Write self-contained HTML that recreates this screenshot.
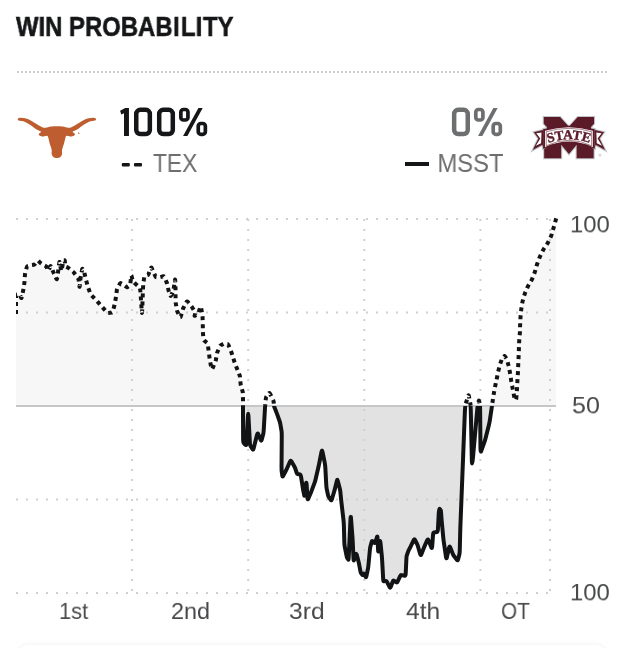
<!DOCTYPE html>
<html><head><meta charset="utf-8">
<style>
html,body{margin:0;padding:0;background:#fff;}
body{width:638px;height:648px;overflow:hidden;position:relative;font-family:"Liberation Sans",sans-serif;}
.t{position:absolute;white-space:nowrap;line-height:1;transform-origin:0 0;will-change:transform;}
.r{transform-origin:100% 0;}
svg{position:absolute;left:0;top:0;}
</style></head><body>
<svg width="638" height="648" viewBox="0 0 638 648" style="will-change:transform">
<defs>
<clipPath id="up"><rect x="16" y="200" width="542" height="206"/></clipPath>
<clipPath id="dn"><rect x="16" y="406" width="542" height="200"/></clipPath>
</defs>
<!-- title rule -->
<line x1="17" y1="72" x2="608" y2="72" stroke="#cbcbcb" stroke-width="2" stroke-dasharray="2 2"/>
<!-- longhorn -->
<g transform="translate(14,110) scale(0.13477)">
<path d="M334.1,120.5 Q318.0,120.0 301.9,120.5 L301.9,120.5 Q285.8,121.0 274.8,122.9 L274.8,122.9 Q263.8,124.8 252.8,128.9 L252.8,128.9 Q241.8,133.0 230.9,132.2 L230.9,132.2 Q220.0,131.4 206.2,125.3 L206.2,125.3 Q192.4,119.3 178.7,111.0 L178.7,111.0 Q165.0,102.8 151.2,94.5 L151.2,94.5 Q137.4,86.3 123.7,78.0 L123.7,78.0 Q110.0,69.8 96.2,65.7 L96.2,65.7 Q82.4,61.6 68.7,59.7 L68.7,59.7 Q55.0,57.7 44.5,58.1 L44.5,58.1 Q34.0,58.5 30.5,62.2 L30.5,62.2 Q27.0,66.0 27.0,69.5 L27.0,69.5 Q27.0,73.0 30.0,76.3 L30.0,76.3 Q33.0,79.7 44.0,79.7 L44.0,79.7 Q55.0,79.7 68.7,84.3 L68.7,84.3 Q82.4,89.0 96.2,96.5 L96.2,96.5 Q110.0,103.9 123.7,113.8 L123.7,113.8 Q137.4,123.7 151.2,133.0 L151.2,133.0 Q165.0,142.3 175.9,148.7 L175.9,148.7 Q186.9,155.0 196.4,157.8 L196.4,157.8 Q206.0,160.5 199.2,164.6 L199.2,164.6 Q192.4,168.7 186.7,174.2 L186.7,174.2 Q181.0,179.7 185.3,185.2 L185.3,185.2 Q189.6,190.7 201.9,194.0 L201.9,194.0 Q214.3,197.3 225.3,195.4 L225.3,195.4 Q236.3,193.5 243.7,191.6 L243.7,191.6 Q251.0,189.6 254.7,206.6 L254.7,206.6 Q258.3,223.7 262.1,237.8 L262.1,237.8 Q266.0,252.0 270.4,265.3 L270.4,265.3 Q274.8,278.6 278.4,291.0 L278.4,291.0 Q282.0,303.4 279.5,313.0 L279.5,313.0 Q277.0,322.6 281.4,333.6 L281.4,333.6 Q285.8,344.6 294.4,349.8 L294.4,349.8 Q303.0,355.0 310.5,356.0 L310.5,356.0 Q318.0,357.0 325.5,356.0 L325.5,356.0 Q333.0,355.0 341.6,349.8 L341.6,349.8 Q350.2,344.6 354.6,333.6 L354.6,333.6 Q359.0,322.6 356.5,313.0 L356.5,313.0 Q354.0,303.4 357.6,291.0 L357.6,291.0 Q361.2,278.6 365.6,265.3 L365.6,265.3 Q370.0,252.0 373.9,237.8 L373.9,237.8 Q377.7,223.7 381.4,206.6 L381.4,206.6 Q385.0,189.6 392.4,191.6 L392.4,191.6 Q399.7,193.5 410.7,195.4 L410.7,195.4 Q421.7,197.3 434.0,194.0 L434.0,194.0 Q446.4,190.7 450.7,185.2 L450.7,185.2 Q455.0,179.7 449.3,174.2 L449.3,174.2 Q443.6,168.7 436.8,164.6 L436.8,164.6 Q430.0,160.5 439.6,157.8 L439.6,157.8 Q449.1,155.0 460.1,148.7 L460.1,148.7 Q471.0,142.3 484.8,133.0 L484.8,133.0 Q498.6,123.7 512.3,113.8 L512.3,113.8 Q526.0,103.9 539.8,96.5 L539.8,96.5 Q553.6,89.0 567.3,84.3 L567.3,84.3 Q581.0,79.7 592.0,79.7 L592.0,79.7 Q603.0,79.7 606.0,76.3 L606.0,76.3 Q609.0,73.0 609.0,69.5 L609.0,69.5 Q609.0,66.0 605.5,62.2 L605.5,62.2 Q602.0,58.5 591.5,58.1 L591.5,58.1 Q581.0,57.7 567.3,59.7 L567.3,59.7 Q553.6,61.6 539.8,65.7 L539.8,65.7 Q526.0,69.8 512.3,78.0 L512.3,78.0 Q498.6,86.3 484.8,94.5 L484.8,94.5 Q471.0,102.8 457.3,111.0 L457.3,111.0 Q443.6,119.3 429.8,125.3 L429.8,125.3 Q416.0,131.4 405.1,132.2 L405.1,132.2 Q394.2,133.0 383.2,128.9 L383.2,128.9 Q372.2,124.8 361.2,122.9 L361.2,122.9 Q350.2,121.0 334.1,120.5 Z" fill="#be5e30"/>
<circle cx="480" cy="172" r="7" fill="#d39a7e"/>
</g>
<!-- msst -->
<g transform="translate(526,108) scale(0.13477)">
<g fill="#c2c5c8" stroke="#c2c5c8" stroke-width="16" stroke-linejoin="miter">
<path d="M318.5,140.0 L253.0,67.0 L132.0,67.0 L132.0,116.0 L155.0,141.0 L155.0,290.0 L135.0,300.0 L135.0,373.0 L261.0,373.0 L261.0,272.0 L318.5,342.0 L376.0,272.0 L376.0,373.0 L502.0,373.0 L502.0,300.0 L482.0,290.0 L482.0,141.0 L505.0,116.0 L505.0,67.0 L384.0,67.0 Z"/><path d="M127,157 Q318.5,107 510.0,157 L510.0,302 Q318.5,216 127,302 Z"/><path d="M127.0,164.0 L58.0,180.0 L92.0,227.0 L50.0,312.0 L121.0,273.0 L127.0,290.0 Z"/><path d="M510.0,164.0 L579.0,180.0 L545.0,227.0 L587.0,312.0 L516.0,273.0 L510.0,290.0 Z"/>
</g>
<path d="M318.5,140.0 L253.0,67.0 L132.0,67.0 L132.0,116.0 L155.0,141.0 L155.0,290.0 L135.0,300.0 L135.0,373.0 L261.0,373.0 L261.0,272.0 L318.5,342.0 L376.0,272.0 L376.0,373.0 L502.0,373.0 L502.0,300.0 L482.0,290.0 L482.0,141.0 L505.0,116.0 L505.0,67.0 L384.0,67.0 Z" fill="#5a1a28"/>
<path d="M121.0,273.0 L127.0,302.0 L150.0,296.0 Z" fill="#9a9da0"/><path d="M516.0,273.0 L510.0,302.0 L487.0,296.0 Z" fill="#9a9da0"/>
<path d="M127.0,164.0 L58.0,180.0 L92.0,227.0 L50.0,312.0 L121.0,273.0 L127.0,290.0 Z" fill="#5a1a28"/><path d="M510.0,164.0 L579.0,180.0 L545.0,227.0 L587.0,312.0 L516.0,273.0 L510.0,290.0 Z" fill="#5a1a28"/>
<path d="M115.0,181.0 L76.0,188.0 L106.0,227.0 L73.0,281.0 L112.0,261.0 Z" fill="#fff"/><path d="M522.0,181.0 L561.0,188.0 L531.0,227.0 L564.0,281.0 L525.0,261.0 Z" fill="#fff"/>
<path d="M127,157 Q318.5,107 510.0,157 L510.0,302 Q318.5,216 127,302 Z" fill="#5a1a28"/>
<path d="M141,169 Q318.5,117 496.0,169 L496.0,289 Q318.5,207 141,289 Z" fill="#fff"/>
<path d="M150,176 Q318.5,126 487.0,176 L487.0,280 Q318.5,199 150,280 Z" fill="none" stroke="#5a1a28" stroke-width="4"/>
<path id="arc" d="M140,268 Q318.5,196 497.0,268" fill="none"/>
<text font-family="Liberation Serif, serif" font-weight="bold" font-size="100" fill="#5a1a28" stroke="#5a1a28" stroke-width="3" text-anchor="middle" letter-spacing="0"><textPath href="#arc" startOffset="50%">STATE</textPath></text>
<circle cx="548" cy="350" r="8" fill="none" stroke="#a9acaf" stroke-width="4"/>
</g>
<!-- big numbers -->
<defs>
<g id="zp">
<rect x="136.250" y="109.850" width="13.600" height="24.200" rx="4" fill="none" stroke-width="4.500"/>
</g>
<g id="pct">
<rect x="180.850" y="109.500" width="7.100" height="10.500" rx="2.600" fill="none" stroke-width="3.700"/>
<rect x="198.250" y="123.500" width="7.100" height="10.800" rx="2.600" fill="none" stroke-width="3.700"/>
<path d="M198.400,108.100 L202.700,108.100 L187.400,135.900 L183.100,135.900 Z" stroke="none"/>
</g>
</defs>
<g stroke="#151617" fill="#151617">
<path d="M125.200,108.100 L128.950,108.100 L128.950,135.900 L124,135.900 L124,113.200 L121.300,114.600 L120.100,110.700 Z" stroke="none"/>
<use href="#zp"/>
<use href="#zp" x="22.950"/>
<use href="#pct"/>
</g>
<g stroke="#6c6e6f" fill="#6c6e6f" transform="translate(294.950,0)">
<use href="#zp" x="22.950"/>
<use href="#pct"/>
</g>
<!-- legend marks -->
<rect x="121.800" y="163" width="8" height="3.500" rx="1" fill="#151617"/>
<rect x="134" y="163" width="8" height="3.500" rx="1" fill="#151617"/>
<rect x="405" y="162" width="24" height="4" fill="#151617"/>
<!-- area fills -->
<path d="M16,314 L16.00,304.65 Q16,303 16.03,301.73 L16.17,295.77 Q16.2,294.5 16.70,294.43 L19.00,294.07 Q19.5,294 19.80,294.68 L21.20,297.82 Q21.5,298.5 21.80,297.07 L23.20,290.43 Q23.5,289 23.65,287.95 L24.35,283.05 Q24.5,282 24.57,280.75 L24.93,274.94 Q25,273.7 25.30,272.59 L26.70,267.41 Q27,266.3 27.52,266.13 L29.98,265.37 Q30.5,265.2 31.10,265.12 L33.90,264.77 Q34.5,264.7 35.02,264.07 L37.48,261.13 Q38,260.5 38.38,260.88 L40.12,262.62 Q40.5,263 40.88,263.25 L42.62,264.44 Q43,264.7 43.52,264.97 L45.98,266.23 Q46.5,266.5 46.73,267.22 L47.77,270.58 Q48,271.3 48.39,270.43 L50.21,266.37 Q50.6,265.5 50.96,266.40 L52.64,270.60 Q53,271.5 53.59,272.77 L56.31,278.73 Q56.9,280 57.16,278.20 L58.34,269.80 Q58.6,268 58.73,267.00 L59.37,262.31 Q59.5,261.3 59.78,262.88 L61.12,270.23 Q61.4,271.8 61.70,270.07 L63.10,262.03 Q63.4,260.3 63.61,260.30 L64.59,260.30 Q64.8,260.3 64.86,261.23 L65.14,265.57 Q65.2,266.5 65.62,266.67 L67.58,267.44 Q68,267.6 68.83,268.26 L72.67,271.34 Q73.5,272 74.27,273.05 L77.83,277.95 Q78.6,279 78.75,280.27 L79.45,286.23 Q79.6,287.5 79.75,286.01 L80.45,279.09 Q80.6,277.6 80.85,276.24 L82.05,269.87 Q82.3,268.5 82.55,268.88 L83.75,270.62 Q84,271 84.24,272.08 L85.36,277.12 Q85.6,278.2 85.93,279.46 L87.47,285.34 Q87.8,286.6 88.23,287.79 L90.27,293.31 Q90.7,294.5 91.54,295.36 L95.46,299.34 Q96.3,300.2 97.09,301.10 L100.80,305.30 Q101.6,306.2 102.48,307.22 L106.61,311.98 Q107.5,313 108.25,312.93 L111.75,312.57 Q112.5,312.5 112.80,311.38 L114.20,306.12 Q114.5,305 114.72,303.80 L115.78,298.20 Q116,297 116.15,295.78 L116.85,290.12 Q117,288.9 117.51,288.00 L119.89,283.80 Q120.4,282.9 120.94,283.21 L123.46,284.69 Q124,285 124.45,285.36 L126.55,287.04 Q127,287.4 127.48,287.07 L129.72,285.53 Q130.2,285.2 130.36,283.64 L131.14,276.36 Q131.3,274.8 131.50,275.66 L132.41,279.64 Q132.6,280.5 132.88,280.86 L134.22,282.54 Q134.5,282.9 135.35,283.66 L139.34,287.24 Q140.2,288 140.47,292.05 L141.73,310.95 Q142,315 142.18,310.35 L143.02,288.65 Q143.2,284 143.38,282.85 L144.22,277.45 Q144.4,276.3 144.97,276.11 L147.63,275.19 Q148.2,275 148.66,273.80 L150.84,268.20 Q151.3,267 151.65,267.82 L153.25,271.68 Q153.6,272.5 153.94,273.20 L155.56,276.50 Q155.9,277.2 156.52,277.23 L159.38,277.37 Q160,277.4 160.60,277.19 L163.40,276.21 Q164,276 164.45,277.08 L166.55,282.12 Q167,283.2 167.24,284.34 L168.36,289.66 Q168.6,290.8 168.91,291.64 L170.38,295.56 Q170.7,296.4 171.12,295.44 L173.08,290.96 Q173.5,290 173.74,288.32 L174.86,280.48 Q175.1,278.8 175.16,280.03 L175.44,285.77 Q175.5,287 175.50,288.12 L175.50,293.38 Q175.5,294.5 175.53,295.73 L175.67,301.47 Q175.7,302.7 175.89,303.91 L176.81,309.59 Q177,310.8 177.51,311.88 L179.89,316.92 Q180.4,318 180.79,316.59 L182.61,310.01 Q183,308.6 183.60,307.46 L186.40,302.14 Q187,301 187.75,301.90 L191.25,306.10 Q192,307 192.53,307.90 L194.97,312.10 Q195.5,313 195.35,313.45 L194.65,315.55 Q194.5,316 195.03,315.70 L197.47,314.30 Q198,314 198.42,312.77 L200.38,307.03 Q200.8,305.8 201.06,307.29 L202.25,314.21 Q202.5,315.7 202.55,316.96 L202.75,322.84 Q202.8,324.1 202.81,325.29 L202.89,330.81 Q202.9,332 202.99,333.19 L203.41,338.71 Q203.5,339.9 204.12,340.41 L206.98,342.79 Q207.6,343.3 207.78,344.56 L208.62,350.44 Q208.8,351.7 208.95,352.94 L209.65,358.75 Q209.8,360 210.10,361.50 L211.50,368.50 Q211.8,370 212.39,368.68 L215.11,362.52 Q215.7,361.2 215.89,359.95 L216.81,354.14 Q217,352.9 217.50,351.79 L219.81,346.61 Q220.3,345.5 220.86,345.22 L223.44,343.88 Q224,343.6 224.60,343.66 L227.40,343.94 Q228,344 228.54,345.31 L231.06,351.39 Q231.6,352.7 232.03,354.11 L234.06,360.69 Q234.5,362.1 234.94,363.23 L236.97,368.48 Q237.4,369.6 237.79,370.61 L239.61,375.30 Q240,376.3 240.10,377.61 L240.59,383.69 Q240.7,385 241.01,386.05 L242.49,390.95 Q242.8,392 242.83,393.20 L242.97,398.80 Q243,400 243.00,400.90 L243.00,405.10 Q243,406 243.01,411.40 L243.09,436.60 Q243.1,442 243.29,442.30 L244.21,443.70 Q244.4,444 244.69,444.18 L246.02,445.02 Q246.3,445.2 246.59,440.12 L247.91,416.38 Q248.2,411.3 248.47,416.38 L249.73,440.12 Q250,445.2 250.48,445.95 L252.72,449.45 Q253.2,450.2 253.86,447.56 L256.94,435.24 Q257.6,432.6 258.16,433.92 L260.75,440.08 Q261.3,441.4 261.65,440.08 L263.25,433.92 Q263.6,432.6 263.83,428.61 L264.88,409.99 Q265.1,406 265.24,404.65 L265.87,398.35 Q266,397 266.52,396.32 L268.98,393.18 Q269.5,392.5 270.12,393.77 L272.99,399.73 Q273.6,401 273.66,401.75 L273.94,405.25 Q274,406 274.45,407.17 L276.55,412.63 Q277,413.8 277.47,415.12 L279.63,421.28 Q280.1,422.6 280.36,424.10 L281.55,431.10 Q281.8,432.6 281.75,438.21 L281.55,464.39 Q281.5,470 281.65,471.05 L282.35,475.95 Q282.5,477 283.07,475.95 L285.73,471.05 Q286.3,470 286.96,468.50 L290.04,461.50 Q290.7,460 291.34,461.14 L294.36,466.46 Q295,467.6 295.30,468.55 L296.70,472.95 Q297,473.9 297.56,473.99 L300.14,474.41 Q300.7,474.5 301.07,476.86 L302.82,487.84 Q303.2,490.2 303.39,491.13 L304.31,495.47 Q304.5,496.4 304.78,494.15 L306.12,483.65 Q306.4,481.4 306.58,484.22 L307.42,497.38 Q307.6,500.2 308.17,498.88 L310.83,492.72 Q311.4,491.4 311.95,489.90 L314.55,482.90 Q315.1,481.4 315.67,478.94 L318.33,467.46 Q318.9,465 319.37,462.66 L321.53,451.74 Q322,449.4 322.48,451.74 L324.72,462.66 Q325.2,465 325.38,468.39 L326.22,484.21 Q326.4,487.6 326.69,488.92 L328.01,495.08 Q328.3,496.4 328.76,497.06 L330.94,500.14 Q331.4,500.8 331.88,499.21 L334.12,491.79 Q334.6,490.2 335.00,488.52 L336.90,480.68 Q337.3,479 337.74,480.68 L339.76,488.52 Q340.2,490.2 340.37,491.87 L341.13,499.63 Q341.3,501.3 341.68,504.51 L343.43,519.49 Q343.8,522.7 343.89,526.05 L344.31,541.65 Q344.4,545 344.77,546.89 L346.52,555.71 Q346.9,557.6 347.15,557.98 L348.35,559.73 Q348.6,560.1 348.92,553.26 L350.38,521.34 Q350.7,514.5 350.99,518.14 L352.31,535.15 Q352.6,538.8 352.75,542.19 L353.45,558.01 Q353.6,561.4 354.00,560.17 L355.90,554.43 Q356.3,553.2 356.68,554.61 L358.43,561.19 Q358.8,562.6 359.09,564.12 L360.41,571.19 Q360.7,572.7 360.99,573.08 L362.31,574.83 Q362.6,575.2 362.80,574.92 L363.70,573.58 Q363.9,573.3 364.23,573.96 L365.77,577.04 Q366.1,577.7 366.42,576.19 L367.88,569.12 Q368.2,567.6 368.49,564.60 L369.81,550.60 Q370.1,547.6 370.38,546.57 L371.72,541.74 Q372,540.7 372.47,541.08 L374.63,542.83 Q375.1,543.2 375.44,542.08 L377.06,536.83 Q377.4,535.7 377.52,538.24 L378.08,550.07 Q378.2,552.6 378.50,550.71 L379.90,541.89 Q380.2,540 380.47,542.64 L381.73,554.96 Q382,557.6 382.19,561.17 L383.11,577.83 Q383.3,581.4 383.76,581.31 L385.94,580.89 Q386.4,580.8 386.97,581.92 L389.63,587.17 Q390.2,588.3 390.66,587.08 L392.84,581.42 Q393.3,580.2 393.86,580.58 L396.44,582.33 Q397,582.7 397.56,581.55 L400.14,576.15 Q400.7,575 401.44,575.12 L404.87,575.68 Q405.6,575.8 405.74,572.89 L406.37,559.31 Q406.5,556.4 406.75,555.65 L407.94,552.15 Q408.2,551.4 408.66,550.45 L410.84,546.05 Q411.3,545.1 411.76,544.15 L413.94,539.75 Q414.4,538.8 414.88,539.75 L417.12,544.15 Q417.6,545.1 418.06,546.71 L420.24,554.19 Q420.7,555.8 421.27,554.38 L423.93,547.72 Q424.5,546.3 425.01,545.17 L427.39,539.92 Q427.9,538.8 428.51,540.31 L431.38,547.38 Q432,548.9 432.18,546.45 L433.02,535.05 Q433.2,532.6 433.89,532.50 L437.11,532.00 Q437.8,531.9 437.95,528.99 L438.65,515.41 Q438.8,512.5 438.91,511.92 L439.39,509.19 Q439.5,508.6 439.71,508.88 L440.69,510.22 Q440.9,510.5 441.02,512.08 L441.58,519.42 Q441.7,521 441.97,523.87 L443.23,537.24 Q443.5,540.1 443.94,543.01 L445.96,556.59 Q446.4,559.5 446.87,557.43 L449.03,547.77 Q449.5,545.7 450.07,547.11 L452.73,553.69 Q453.3,555.1 453.96,555.96 L457.04,559.94 Q457.7,560.8 458.00,559.63 L459.40,554.17 Q459.7,553 459.79,549.25 L460.21,531.75 Q460.3,528 460.68,518.55 L462.43,474.45 Q462.8,465 463.15,456.11 L464.75,414.59 Q465.1,405.7 465.62,404.00 L468.08,396.09 Q468.6,394.4 468.92,396.09 L470.38,404.00 Q470.7,405.7 470.89,415.09 L471.81,458.91 Q472,468.3 472.84,458.91 L476.76,415.09 Q477.6,405.7 477.80,404.84 L478.70,400.86 Q478.9,400 479.08,400.86 L479.92,404.84 Q480.1,405.7 480.16,412.80 L480.44,445.90 Q480.5,453 481.19,451.08 L484.41,442.12 Q485.1,440.2 485.76,437.56 L488.84,425.24 Q489.5,422.6 489.88,420.06 L491.62,408.24 Q492,405.7 492.23,404.12 L493.27,396.77 Q493.5,395.2 493.73,393.97 L494.77,388.23 Q495,387 495.24,385.88 L496.36,380.62 Q496.6,379.5 496.84,378.28 L497.96,372.62 Q498.2,371.4 498.51,370.21 L499.99,364.69 Q500.3,363.5 500.60,362.68 L502.00,358.82 Q502.3,358 502.65,357.67 L504.25,356.13 Q504.6,355.8 504.93,356.28 L506.47,358.52 Q506.8,359 507.07,360.00 L508.33,364.69 Q508.6,365.7 508.83,366.84 L509.88,372.16 Q510.1,373.3 510.28,374.51 L511.12,380.19 Q511.3,381.4 511.54,382.63 L512.66,388.37 Q512.9,389.6 513.18,391.16 L514.51,398.44 Q514.8,400 515.01,399.93 L515.99,399.57 Q516.2,399.5 516.32,397.91 L516.88,390.49 Q517,388.9 517.06,387.69 L517.34,382.01 Q517.4,380.8 517.48,379.68 L517.82,374.43 Q517.9,373.3 517.94,372.07 L518.16,366.33 Q518.2,365.1 518.26,363.88 L518.54,358.22 Q518.6,357 518.64,355.77 L518.86,350.03 Q518.9,348.8 518.94,347.63 L519.16,342.17 Q519.2,341 519.31,339.77 L519.79,334.03 Q519.9,332.8 519.93,331.63 L520.07,326.17 Q520.1,325 520.16,323.80 L520.44,318.20 Q520.5,317 520.62,315.78 L521.18,310.12 Q521.3,308.9 521.50,307.73 L522.40,302.27 Q522.6,301.1 522.93,299.98 L524.47,294.73 Q524.8,293.6 525.26,292.50 L527.43,287.40 Q527.9,286.3 528.51,285.26 L531.38,280.44 Q532,279.4 532.43,278.27 L534.47,273.02 Q534.9,271.9 535.22,270.77 L536.68,265.52 Q537,264.4 537.43,263.23 L539.47,257.77 Q539.9,256.6 540.42,255.54 L542.88,250.56 Q543.4,249.5 544.06,248.51 L547.14,243.89 Q547.8,242.9 548.31,241.85 L550.69,236.95 Q551.2,235.9 551.55,234.73 L553.15,229.27 Q553.5,228.1 553.82,226.96 L555.28,221.64 Q555.6,220.5 555.69,220.19 L556.2,218.4 L556,406 L16,406 Z" fill="#f7f7f7" clip-path="url(#up)"/>
<path d="M16,314 L16.00,304.65 Q16,303 16.03,301.73 L16.17,295.77 Q16.2,294.5 16.70,294.43 L19.00,294.07 Q19.5,294 19.80,294.68 L21.20,297.82 Q21.5,298.5 21.80,297.07 L23.20,290.43 Q23.5,289 23.65,287.95 L24.35,283.05 Q24.5,282 24.57,280.75 L24.93,274.94 Q25,273.7 25.30,272.59 L26.70,267.41 Q27,266.3 27.52,266.13 L29.98,265.37 Q30.5,265.2 31.10,265.12 L33.90,264.77 Q34.5,264.7 35.02,264.07 L37.48,261.13 Q38,260.5 38.38,260.88 L40.12,262.62 Q40.5,263 40.88,263.25 L42.62,264.44 Q43,264.7 43.52,264.97 L45.98,266.23 Q46.5,266.5 46.73,267.22 L47.77,270.58 Q48,271.3 48.39,270.43 L50.21,266.37 Q50.6,265.5 50.96,266.40 L52.64,270.60 Q53,271.5 53.59,272.77 L56.31,278.73 Q56.9,280 57.16,278.20 L58.34,269.80 Q58.6,268 58.73,267.00 L59.37,262.31 Q59.5,261.3 59.78,262.88 L61.12,270.23 Q61.4,271.8 61.70,270.07 L63.10,262.03 Q63.4,260.3 63.61,260.30 L64.59,260.30 Q64.8,260.3 64.86,261.23 L65.14,265.57 Q65.2,266.5 65.62,266.67 L67.58,267.44 Q68,267.6 68.83,268.26 L72.67,271.34 Q73.5,272 74.27,273.05 L77.83,277.95 Q78.6,279 78.75,280.27 L79.45,286.23 Q79.6,287.5 79.75,286.01 L80.45,279.09 Q80.6,277.6 80.85,276.24 L82.05,269.87 Q82.3,268.5 82.55,268.88 L83.75,270.62 Q84,271 84.24,272.08 L85.36,277.12 Q85.6,278.2 85.93,279.46 L87.47,285.34 Q87.8,286.6 88.23,287.79 L90.27,293.31 Q90.7,294.5 91.54,295.36 L95.46,299.34 Q96.3,300.2 97.09,301.10 L100.80,305.30 Q101.6,306.2 102.48,307.22 L106.61,311.98 Q107.5,313 108.25,312.93 L111.75,312.57 Q112.5,312.5 112.80,311.38 L114.20,306.12 Q114.5,305 114.72,303.80 L115.78,298.20 Q116,297 116.15,295.78 L116.85,290.12 Q117,288.9 117.51,288.00 L119.89,283.80 Q120.4,282.9 120.94,283.21 L123.46,284.69 Q124,285 124.45,285.36 L126.55,287.04 Q127,287.4 127.48,287.07 L129.72,285.53 Q130.2,285.2 130.36,283.64 L131.14,276.36 Q131.3,274.8 131.50,275.66 L132.41,279.64 Q132.6,280.5 132.88,280.86 L134.22,282.54 Q134.5,282.9 135.35,283.66 L139.34,287.24 Q140.2,288 140.47,292.05 L141.73,310.95 Q142,315 142.18,310.35 L143.02,288.65 Q143.2,284 143.38,282.85 L144.22,277.45 Q144.4,276.3 144.97,276.11 L147.63,275.19 Q148.2,275 148.66,273.80 L150.84,268.20 Q151.3,267 151.65,267.82 L153.25,271.68 Q153.6,272.5 153.94,273.20 L155.56,276.50 Q155.9,277.2 156.52,277.23 L159.38,277.37 Q160,277.4 160.60,277.19 L163.40,276.21 Q164,276 164.45,277.08 L166.55,282.12 Q167,283.2 167.24,284.34 L168.36,289.66 Q168.6,290.8 168.91,291.64 L170.38,295.56 Q170.7,296.4 171.12,295.44 L173.08,290.96 Q173.5,290 173.74,288.32 L174.86,280.48 Q175.1,278.8 175.16,280.03 L175.44,285.77 Q175.5,287 175.50,288.12 L175.50,293.38 Q175.5,294.5 175.53,295.73 L175.67,301.47 Q175.7,302.7 175.89,303.91 L176.81,309.59 Q177,310.8 177.51,311.88 L179.89,316.92 Q180.4,318 180.79,316.59 L182.61,310.01 Q183,308.6 183.60,307.46 L186.40,302.14 Q187,301 187.75,301.90 L191.25,306.10 Q192,307 192.53,307.90 L194.97,312.10 Q195.5,313 195.35,313.45 L194.65,315.55 Q194.5,316 195.03,315.70 L197.47,314.30 Q198,314 198.42,312.77 L200.38,307.03 Q200.8,305.8 201.06,307.29 L202.25,314.21 Q202.5,315.7 202.55,316.96 L202.75,322.84 Q202.8,324.1 202.81,325.29 L202.89,330.81 Q202.9,332 202.99,333.19 L203.41,338.71 Q203.5,339.9 204.12,340.41 L206.98,342.79 Q207.6,343.3 207.78,344.56 L208.62,350.44 Q208.8,351.7 208.95,352.94 L209.65,358.75 Q209.8,360 210.10,361.50 L211.50,368.50 Q211.8,370 212.39,368.68 L215.11,362.52 Q215.7,361.2 215.89,359.95 L216.81,354.14 Q217,352.9 217.50,351.79 L219.81,346.61 Q220.3,345.5 220.86,345.22 L223.44,343.88 Q224,343.6 224.60,343.66 L227.40,343.94 Q228,344 228.54,345.31 L231.06,351.39 Q231.6,352.7 232.03,354.11 L234.06,360.69 Q234.5,362.1 234.94,363.23 L236.97,368.48 Q237.4,369.6 237.79,370.61 L239.61,375.30 Q240,376.3 240.10,377.61 L240.59,383.69 Q240.7,385 241.01,386.05 L242.49,390.95 Q242.8,392 242.83,393.20 L242.97,398.80 Q243,400 243.00,400.90 L243.00,405.10 Q243,406 243.01,411.40 L243.09,436.60 Q243.1,442 243.29,442.30 L244.21,443.70 Q244.4,444 244.69,444.18 L246.02,445.02 Q246.3,445.2 246.59,440.12 L247.91,416.38 Q248.2,411.3 248.47,416.38 L249.73,440.12 Q250,445.2 250.48,445.95 L252.72,449.45 Q253.2,450.2 253.86,447.56 L256.94,435.24 Q257.6,432.6 258.16,433.92 L260.75,440.08 Q261.3,441.4 261.65,440.08 L263.25,433.92 Q263.6,432.6 263.83,428.61 L264.88,409.99 Q265.1,406 265.24,404.65 L265.87,398.35 Q266,397 266.52,396.32 L268.98,393.18 Q269.5,392.5 270.12,393.77 L272.99,399.73 Q273.6,401 273.66,401.75 L273.94,405.25 Q274,406 274.45,407.17 L276.55,412.63 Q277,413.8 277.47,415.12 L279.63,421.28 Q280.1,422.6 280.36,424.10 L281.55,431.10 Q281.8,432.6 281.75,438.21 L281.55,464.39 Q281.5,470 281.65,471.05 L282.35,475.95 Q282.5,477 283.07,475.95 L285.73,471.05 Q286.3,470 286.96,468.50 L290.04,461.50 Q290.7,460 291.34,461.14 L294.36,466.46 Q295,467.6 295.30,468.55 L296.70,472.95 Q297,473.9 297.56,473.99 L300.14,474.41 Q300.7,474.5 301.07,476.86 L302.82,487.84 Q303.2,490.2 303.39,491.13 L304.31,495.47 Q304.5,496.4 304.78,494.15 L306.12,483.65 Q306.4,481.4 306.58,484.22 L307.42,497.38 Q307.6,500.2 308.17,498.88 L310.83,492.72 Q311.4,491.4 311.95,489.90 L314.55,482.90 Q315.1,481.4 315.67,478.94 L318.33,467.46 Q318.9,465 319.37,462.66 L321.53,451.74 Q322,449.4 322.48,451.74 L324.72,462.66 Q325.2,465 325.38,468.39 L326.22,484.21 Q326.4,487.6 326.69,488.92 L328.01,495.08 Q328.3,496.4 328.76,497.06 L330.94,500.14 Q331.4,500.8 331.88,499.21 L334.12,491.79 Q334.6,490.2 335.00,488.52 L336.90,480.68 Q337.3,479 337.74,480.68 L339.76,488.52 Q340.2,490.2 340.37,491.87 L341.13,499.63 Q341.3,501.3 341.68,504.51 L343.43,519.49 Q343.8,522.7 343.89,526.05 L344.31,541.65 Q344.4,545 344.77,546.89 L346.52,555.71 Q346.9,557.6 347.15,557.98 L348.35,559.73 Q348.6,560.1 348.92,553.26 L350.38,521.34 Q350.7,514.5 350.99,518.14 L352.31,535.15 Q352.6,538.8 352.75,542.19 L353.45,558.01 Q353.6,561.4 354.00,560.17 L355.90,554.43 Q356.3,553.2 356.68,554.61 L358.43,561.19 Q358.8,562.6 359.09,564.12 L360.41,571.19 Q360.7,572.7 360.99,573.08 L362.31,574.83 Q362.6,575.2 362.80,574.92 L363.70,573.58 Q363.9,573.3 364.23,573.96 L365.77,577.04 Q366.1,577.7 366.42,576.19 L367.88,569.12 Q368.2,567.6 368.49,564.60 L369.81,550.60 Q370.1,547.6 370.38,546.57 L371.72,541.74 Q372,540.7 372.47,541.08 L374.63,542.83 Q375.1,543.2 375.44,542.08 L377.06,536.83 Q377.4,535.7 377.52,538.24 L378.08,550.07 Q378.2,552.6 378.50,550.71 L379.90,541.89 Q380.2,540 380.47,542.64 L381.73,554.96 Q382,557.6 382.19,561.17 L383.11,577.83 Q383.3,581.4 383.76,581.31 L385.94,580.89 Q386.4,580.8 386.97,581.92 L389.63,587.17 Q390.2,588.3 390.66,587.08 L392.84,581.42 Q393.3,580.2 393.86,580.58 L396.44,582.33 Q397,582.7 397.56,581.55 L400.14,576.15 Q400.7,575 401.44,575.12 L404.87,575.68 Q405.6,575.8 405.74,572.89 L406.37,559.31 Q406.5,556.4 406.75,555.65 L407.94,552.15 Q408.2,551.4 408.66,550.45 L410.84,546.05 Q411.3,545.1 411.76,544.15 L413.94,539.75 Q414.4,538.8 414.88,539.75 L417.12,544.15 Q417.6,545.1 418.06,546.71 L420.24,554.19 Q420.7,555.8 421.27,554.38 L423.93,547.72 Q424.5,546.3 425.01,545.17 L427.39,539.92 Q427.9,538.8 428.51,540.31 L431.38,547.38 Q432,548.9 432.18,546.45 L433.02,535.05 Q433.2,532.6 433.89,532.50 L437.11,532.00 Q437.8,531.9 437.95,528.99 L438.65,515.41 Q438.8,512.5 438.91,511.92 L439.39,509.19 Q439.5,508.6 439.71,508.88 L440.69,510.22 Q440.9,510.5 441.02,512.08 L441.58,519.42 Q441.7,521 441.97,523.87 L443.23,537.24 Q443.5,540.1 443.94,543.01 L445.96,556.59 Q446.4,559.5 446.87,557.43 L449.03,547.77 Q449.5,545.7 450.07,547.11 L452.73,553.69 Q453.3,555.1 453.96,555.96 L457.04,559.94 Q457.7,560.8 458.00,559.63 L459.40,554.17 Q459.7,553 459.79,549.25 L460.21,531.75 Q460.3,528 460.68,518.55 L462.43,474.45 Q462.8,465 463.15,456.11 L464.75,414.59 Q465.1,405.7 465.62,404.00 L468.08,396.09 Q468.6,394.4 468.92,396.09 L470.38,404.00 Q470.7,405.7 470.89,415.09 L471.81,458.91 Q472,468.3 472.84,458.91 L476.76,415.09 Q477.6,405.7 477.80,404.84 L478.70,400.86 Q478.9,400 479.08,400.86 L479.92,404.84 Q480.1,405.7 480.16,412.80 L480.44,445.90 Q480.5,453 481.19,451.08 L484.41,442.12 Q485.1,440.2 485.76,437.56 L488.84,425.24 Q489.5,422.6 489.88,420.06 L491.62,408.24 Q492,405.7 492.23,404.12 L493.27,396.77 Q493.5,395.2 493.73,393.97 L494.77,388.23 Q495,387 495.24,385.88 L496.36,380.62 Q496.6,379.5 496.84,378.28 L497.96,372.62 Q498.2,371.4 498.51,370.21 L499.99,364.69 Q500.3,363.5 500.60,362.68 L502.00,358.82 Q502.3,358 502.65,357.67 L504.25,356.13 Q504.6,355.8 504.93,356.28 L506.47,358.52 Q506.8,359 507.07,360.00 L508.33,364.69 Q508.6,365.7 508.83,366.84 L509.88,372.16 Q510.1,373.3 510.28,374.51 L511.12,380.19 Q511.3,381.4 511.54,382.63 L512.66,388.37 Q512.9,389.6 513.18,391.16 L514.51,398.44 Q514.8,400 515.01,399.93 L515.99,399.57 Q516.2,399.5 516.32,397.91 L516.88,390.49 Q517,388.9 517.06,387.69 L517.34,382.01 Q517.4,380.8 517.48,379.68 L517.82,374.43 Q517.9,373.3 517.94,372.07 L518.16,366.33 Q518.2,365.1 518.26,363.88 L518.54,358.22 Q518.6,357 518.64,355.77 L518.86,350.03 Q518.9,348.8 518.94,347.63 L519.16,342.17 Q519.2,341 519.31,339.77 L519.79,334.03 Q519.9,332.8 519.93,331.63 L520.07,326.17 Q520.1,325 520.16,323.80 L520.44,318.20 Q520.5,317 520.62,315.78 L521.18,310.12 Q521.3,308.9 521.50,307.73 L522.40,302.27 Q522.6,301.1 522.93,299.98 L524.47,294.73 Q524.8,293.6 525.26,292.50 L527.43,287.40 Q527.9,286.3 528.51,285.26 L531.38,280.44 Q532,279.4 532.43,278.27 L534.47,273.02 Q534.9,271.9 535.22,270.77 L536.68,265.52 Q537,264.4 537.43,263.23 L539.47,257.77 Q539.9,256.6 540.42,255.54 L542.88,250.56 Q543.4,249.5 544.06,248.51 L547.14,243.89 Q547.8,242.9 548.31,241.85 L550.69,236.95 Q551.2,235.9 551.55,234.73 L553.15,229.27 Q553.5,228.1 553.82,226.96 L555.28,221.64 Q555.6,220.5 555.69,220.19 L556.2,218.4 L556,406 L16,406 Z" fill="#e2e2e2" clip-path="url(#dn)"/>
<!-- grid -->
<g stroke="#d0d0d0" stroke-width="2" stroke-dasharray="2 8" fill="none">
<line x1="16" y1="219" x2="556" y2="219"/>
<line x1="16" y1="312.500" x2="556" y2="312.500"/>
<line x1="16" y1="499.500" x2="556" y2="499.500"/>
<line x1="16" y1="593" x2="556" y2="593"/>
<line x1="132.100" y1="219" x2="132.100" y2="592"/>
<line x1="248.200" y1="219" x2="248.200" y2="592"/>
<line x1="364.300" y1="219" x2="364.300" y2="592"/>
<line x1="480.400" y1="219" x2="480.400" y2="592"/>
<line x1="550" y1="219" x2="550" y2="592"/>
</g>
<line x1="16" y1="406" x2="556" y2="406" stroke="#c4c6c8" stroke-width="2"/>
<!-- line -->
<path d="M16,314 L16.00,304.65 Q16,303 16.03,301.73 L16.17,295.77 Q16.2,294.5 16.70,294.43 L19.00,294.07 Q19.5,294 19.80,294.68 L21.20,297.82 Q21.5,298.5 21.80,297.07 L23.20,290.43 Q23.5,289 23.65,287.95 L24.35,283.05 Q24.5,282 24.57,280.75 L24.93,274.94 Q25,273.7 25.30,272.59 L26.70,267.41 Q27,266.3 27.52,266.13 L29.98,265.37 Q30.5,265.2 31.10,265.12 L33.90,264.77 Q34.5,264.7 35.02,264.07 L37.48,261.13 Q38,260.5 38.38,260.88 L40.12,262.62 Q40.5,263 40.88,263.25 L42.62,264.44 Q43,264.7 43.52,264.97 L45.98,266.23 Q46.5,266.5 46.73,267.22 L47.77,270.58 Q48,271.3 48.39,270.43 L50.21,266.37 Q50.6,265.5 50.96,266.40 L52.64,270.60 Q53,271.5 53.59,272.77 L56.31,278.73 Q56.9,280 57.16,278.20 L58.34,269.80 Q58.6,268 58.73,267.00 L59.37,262.31 Q59.5,261.3 59.78,262.88 L61.12,270.23 Q61.4,271.8 61.70,270.07 L63.10,262.03 Q63.4,260.3 63.61,260.30 L64.59,260.30 Q64.8,260.3 64.86,261.23 L65.14,265.57 Q65.2,266.5 65.62,266.67 L67.58,267.44 Q68,267.6 68.83,268.26 L72.67,271.34 Q73.5,272 74.27,273.05 L77.83,277.95 Q78.6,279 78.75,280.27 L79.45,286.23 Q79.6,287.5 79.75,286.01 L80.45,279.09 Q80.6,277.6 80.85,276.24 L82.05,269.87 Q82.3,268.5 82.55,268.88 L83.75,270.62 Q84,271 84.24,272.08 L85.36,277.12 Q85.6,278.2 85.93,279.46 L87.47,285.34 Q87.8,286.6 88.23,287.79 L90.27,293.31 Q90.7,294.5 91.54,295.36 L95.46,299.34 Q96.3,300.2 97.09,301.10 L100.80,305.30 Q101.6,306.2 102.48,307.22 L106.61,311.98 Q107.5,313 108.25,312.93 L111.75,312.57 Q112.5,312.5 112.80,311.38 L114.20,306.12 Q114.5,305 114.72,303.80 L115.78,298.20 Q116,297 116.15,295.78 L116.85,290.12 Q117,288.9 117.51,288.00 L119.89,283.80 Q120.4,282.9 120.94,283.21 L123.46,284.69 Q124,285 124.45,285.36 L126.55,287.04 Q127,287.4 127.48,287.07 L129.72,285.53 Q130.2,285.2 130.36,283.64 L131.14,276.36 Q131.3,274.8 131.50,275.66 L132.41,279.64 Q132.6,280.5 132.88,280.86 L134.22,282.54 Q134.5,282.9 135.35,283.66 L139.34,287.24 Q140.2,288 140.47,292.05 L141.73,310.95 Q142,315 142.18,310.35 L143.02,288.65 Q143.2,284 143.38,282.85 L144.22,277.45 Q144.4,276.3 144.97,276.11 L147.63,275.19 Q148.2,275 148.66,273.80 L150.84,268.20 Q151.3,267 151.65,267.82 L153.25,271.68 Q153.6,272.5 153.94,273.20 L155.56,276.50 Q155.9,277.2 156.52,277.23 L159.38,277.37 Q160,277.4 160.60,277.19 L163.40,276.21 Q164,276 164.45,277.08 L166.55,282.12 Q167,283.2 167.24,284.34 L168.36,289.66 Q168.6,290.8 168.91,291.64 L170.38,295.56 Q170.7,296.4 171.12,295.44 L173.08,290.96 Q173.5,290 173.74,288.32 L174.86,280.48 Q175.1,278.8 175.16,280.03 L175.44,285.77 Q175.5,287 175.50,288.12 L175.50,293.38 Q175.5,294.5 175.53,295.73 L175.67,301.47 Q175.7,302.7 175.89,303.91 L176.81,309.59 Q177,310.8 177.51,311.88 L179.89,316.92 Q180.4,318 180.79,316.59 L182.61,310.01 Q183,308.6 183.60,307.46 L186.40,302.14 Q187,301 187.75,301.90 L191.25,306.10 Q192,307 192.53,307.90 L194.97,312.10 Q195.5,313 195.35,313.45 L194.65,315.55 Q194.5,316 195.03,315.70 L197.47,314.30 Q198,314 198.42,312.77 L200.38,307.03 Q200.8,305.8 201.06,307.29 L202.25,314.21 Q202.5,315.7 202.55,316.96 L202.75,322.84 Q202.8,324.1 202.81,325.29 L202.89,330.81 Q202.9,332 202.99,333.19 L203.41,338.71 Q203.5,339.9 204.12,340.41 L206.98,342.79 Q207.6,343.3 207.78,344.56 L208.62,350.44 Q208.8,351.7 208.95,352.94 L209.65,358.75 Q209.8,360 210.10,361.50 L211.50,368.50 Q211.8,370 212.39,368.68 L215.11,362.52 Q215.7,361.2 215.89,359.95 L216.81,354.14 Q217,352.9 217.50,351.79 L219.81,346.61 Q220.3,345.5 220.86,345.22 L223.44,343.88 Q224,343.6 224.60,343.66 L227.40,343.94 Q228,344 228.54,345.31 L231.06,351.39 Q231.6,352.7 232.03,354.11 L234.06,360.69 Q234.5,362.1 234.94,363.23 L236.97,368.48 Q237.4,369.6 237.79,370.61 L239.61,375.30 Q240,376.3 240.10,377.61 L240.59,383.69 Q240.7,385 241.01,386.05 L242.49,390.95 Q242.8,392 242.83,393.20 L242.97,398.80 Q243,400 243.00,400.90 L243,406" fill="none" stroke="#121314" stroke-width="4" stroke-dasharray="4 4" stroke-dashoffset="0" stroke-linejoin="round" clip-path="url(#up)"/>
<path d="M265.1,406 L265.87,398.35 Q266,397 266.52,396.32 L268.98,393.18 Q269.5,392.5 270.12,393.77 L272.99,399.73 Q273.6,401 273.66,401.75 L274,406" fill="none" stroke="#121314" stroke-width="4" stroke-dasharray="4 4" stroke-dashoffset="2.2" stroke-linejoin="round" clip-path="url(#up)"/>
<path d="M465.1,405.7 L468.08,396.09 Q468.6,394.4 468.92,396.09 L470.7,405.7" fill="none" stroke="#121314" stroke-width="4" stroke-dasharray="4 4" stroke-dashoffset="5.6" stroke-linejoin="round" clip-path="url(#up)"/>
<path d="M477.6,405.7 L478.70,400.86 Q478.9,400 479.08,400.86 L480.1,405.7" fill="none" stroke="#121314" stroke-width="4" stroke-dasharray="4 4" stroke-dashoffset="4.2" stroke-linejoin="round" clip-path="url(#up)"/>
<path d="M556.2,218.4 L555.69,220.19 Q555.6,220.5 555.28,221.64 L553.82,226.96 Q553.5,228.1 553.15,229.27 L551.55,234.73 Q551.2,235.9 550.69,236.95 L548.31,241.85 Q547.8,242.9 547.14,243.89 L544.06,248.51 Q543.4,249.5 542.88,250.56 L540.42,255.54 Q539.9,256.6 539.47,257.77 L537.43,263.23 Q537,264.4 536.68,265.52 L535.22,270.77 Q534.9,271.9 534.47,273.02 L532.43,278.27 Q532,279.4 531.38,280.44 L528.51,285.26 Q527.9,286.3 527.43,287.40 L525.26,292.50 Q524.8,293.6 524.47,294.73 L522.93,299.98 Q522.6,301.1 522.40,302.27 L521.50,307.73 Q521.3,308.9 521.18,310.12 L520.62,315.78 Q520.5,317 520.44,318.20 L520.16,323.80 Q520.1,325 520.07,326.17 L519.93,331.63 Q519.9,332.8 519.79,334.03 L519.31,339.77 Q519.2,341 519.16,342.17 L518.94,347.63 Q518.9,348.8 518.86,350.03 L518.64,355.77 Q518.6,357 518.54,358.22 L518.26,363.88 Q518.2,365.1 518.16,366.33 L517.94,372.07 Q517.9,373.3 517.82,374.43 L517.48,379.68 Q517.4,380.8 517.34,382.01 L517.06,387.69 Q517,388.9 516.88,390.49 L516.32,397.91 Q516.2,399.5 515.99,399.57 L515.01,399.93 Q514.8,400 514.51,398.44 L513.18,391.16 Q512.9,389.6 512.66,388.37 L511.54,382.63 Q511.3,381.4 511.12,380.19 L510.28,374.51 Q510.1,373.3 509.88,372.16 L508.83,366.84 Q508.6,365.7 508.33,364.69 L507.07,360.00 Q506.8,359 506.47,358.52 L504.93,356.28 Q504.6,355.8 504.25,356.13 L502.65,357.67 Q502.3,358 502.00,358.82 L500.60,362.68 Q500.3,363.5 499.99,364.69 L498.51,370.21 Q498.2,371.4 497.96,372.62 L496.84,378.28 Q496.6,379.5 496.36,380.62 L495.24,385.88 Q495,387 494.77,388.23 L493.73,393.97 Q493.5,395.2 493.27,396.77 L492,405.7" fill="none" stroke="#121314" stroke-width="4" stroke-dasharray="4 4" stroke-dashoffset="0" stroke-linejoin="round" clip-path="url(#up)"/>

<path d="M16,314 L16.00,304.65 Q16,303 16.03,301.73 L16.17,295.77 Q16.2,294.5 16.70,294.43 L19.00,294.07 Q19.5,294 19.80,294.68 L21.20,297.82 Q21.5,298.5 21.80,297.07 L23.20,290.43 Q23.5,289 23.65,287.95 L24.35,283.05 Q24.5,282 24.57,280.75 L24.93,274.94 Q25,273.7 25.30,272.59 L26.70,267.41 Q27,266.3 27.52,266.13 L29.98,265.37 Q30.5,265.2 31.10,265.12 L33.90,264.77 Q34.5,264.7 35.02,264.07 L37.48,261.13 Q38,260.5 38.38,260.88 L40.12,262.62 Q40.5,263 40.88,263.25 L42.62,264.44 Q43,264.7 43.52,264.97 L45.98,266.23 Q46.5,266.5 46.73,267.22 L47.77,270.58 Q48,271.3 48.39,270.43 L50.21,266.37 Q50.6,265.5 50.96,266.40 L52.64,270.60 Q53,271.5 53.59,272.77 L56.31,278.73 Q56.9,280 57.16,278.20 L58.34,269.80 Q58.6,268 58.73,267.00 L59.37,262.31 Q59.5,261.3 59.78,262.88 L61.12,270.23 Q61.4,271.8 61.70,270.07 L63.10,262.03 Q63.4,260.3 63.61,260.30 L64.59,260.30 Q64.8,260.3 64.86,261.23 L65.14,265.57 Q65.2,266.5 65.62,266.67 L67.58,267.44 Q68,267.6 68.83,268.26 L72.67,271.34 Q73.5,272 74.27,273.05 L77.83,277.95 Q78.6,279 78.75,280.27 L79.45,286.23 Q79.6,287.5 79.75,286.01 L80.45,279.09 Q80.6,277.6 80.85,276.24 L82.05,269.87 Q82.3,268.5 82.55,268.88 L83.75,270.62 Q84,271 84.24,272.08 L85.36,277.12 Q85.6,278.2 85.93,279.46 L87.47,285.34 Q87.8,286.6 88.23,287.79 L90.27,293.31 Q90.7,294.5 91.54,295.36 L95.46,299.34 Q96.3,300.2 97.09,301.10 L100.80,305.30 Q101.6,306.2 102.48,307.22 L106.61,311.98 Q107.5,313 108.25,312.93 L111.75,312.57 Q112.5,312.5 112.80,311.38 L114.20,306.12 Q114.5,305 114.72,303.80 L115.78,298.20 Q116,297 116.15,295.78 L116.85,290.12 Q117,288.9 117.51,288.00 L119.89,283.80 Q120.4,282.9 120.94,283.21 L123.46,284.69 Q124,285 124.45,285.36 L126.55,287.04 Q127,287.4 127.48,287.07 L129.72,285.53 Q130.2,285.2 130.36,283.64 L131.14,276.36 Q131.3,274.8 131.50,275.66 L132.41,279.64 Q132.6,280.5 132.88,280.86 L134.22,282.54 Q134.5,282.9 135.35,283.66 L139.34,287.24 Q140.2,288 140.47,292.05 L141.73,310.95 Q142,315 142.18,310.35 L143.02,288.65 Q143.2,284 143.38,282.85 L144.22,277.45 Q144.4,276.3 144.97,276.11 L147.63,275.19 Q148.2,275 148.66,273.80 L150.84,268.20 Q151.3,267 151.65,267.82 L153.25,271.68 Q153.6,272.5 153.94,273.20 L155.56,276.50 Q155.9,277.2 156.52,277.23 L159.38,277.37 Q160,277.4 160.60,277.19 L163.40,276.21 Q164,276 164.45,277.08 L166.55,282.12 Q167,283.2 167.24,284.34 L168.36,289.66 Q168.6,290.8 168.91,291.64 L170.38,295.56 Q170.7,296.4 171.12,295.44 L173.08,290.96 Q173.5,290 173.74,288.32 L174.86,280.48 Q175.1,278.8 175.16,280.03 L175.44,285.77 Q175.5,287 175.50,288.12 L175.50,293.38 Q175.5,294.5 175.53,295.73 L175.67,301.47 Q175.7,302.7 175.89,303.91 L176.81,309.59 Q177,310.8 177.51,311.88 L179.89,316.92 Q180.4,318 180.79,316.59 L182.61,310.01 Q183,308.6 183.60,307.46 L186.40,302.14 Q187,301 187.75,301.90 L191.25,306.10 Q192,307 192.53,307.90 L194.97,312.10 Q195.5,313 195.35,313.45 L194.65,315.55 Q194.5,316 195.03,315.70 L197.47,314.30 Q198,314 198.42,312.77 L200.38,307.03 Q200.8,305.8 201.06,307.29 L202.25,314.21 Q202.5,315.7 202.55,316.96 L202.75,322.84 Q202.8,324.1 202.81,325.29 L202.89,330.81 Q202.9,332 202.99,333.19 L203.41,338.71 Q203.5,339.9 204.12,340.41 L206.98,342.79 Q207.6,343.3 207.78,344.56 L208.62,350.44 Q208.8,351.7 208.95,352.94 L209.65,358.75 Q209.8,360 210.10,361.50 L211.50,368.50 Q211.8,370 212.39,368.68 L215.11,362.52 Q215.7,361.2 215.89,359.95 L216.81,354.14 Q217,352.9 217.50,351.79 L219.81,346.61 Q220.3,345.5 220.86,345.22 L223.44,343.88 Q224,343.6 224.60,343.66 L227.40,343.94 Q228,344 228.54,345.31 L231.06,351.39 Q231.6,352.7 232.03,354.11 L234.06,360.69 Q234.5,362.1 234.94,363.23 L236.97,368.48 Q237.4,369.6 237.79,370.61 L239.61,375.30 Q240,376.3 240.10,377.61 L240.59,383.69 Q240.7,385 241.01,386.05 L242.49,390.95 Q242.8,392 242.83,393.20 L242.97,398.80 Q243,400 243.00,400.90 L243.00,405.10 Q243,406 243.01,411.40 L243.09,436.60 Q243.1,442 243.29,442.30 L244.21,443.70 Q244.4,444 244.69,444.18 L246.02,445.02 Q246.3,445.2 246.59,440.12 L247.91,416.38 Q248.2,411.3 248.47,416.38 L249.73,440.12 Q250,445.2 250.48,445.95 L252.72,449.45 Q253.2,450.2 253.86,447.56 L256.94,435.24 Q257.6,432.6 258.16,433.92 L260.75,440.08 Q261.3,441.4 261.65,440.08 L263.25,433.92 Q263.6,432.6 263.83,428.61 L264.88,409.99 Q265.1,406 265.24,404.65 L265.87,398.35 Q266,397 266.52,396.32 L268.98,393.18 Q269.5,392.5 270.12,393.77 L272.99,399.73 Q273.6,401 273.66,401.75 L273.94,405.25 Q274,406 274.45,407.17 L276.55,412.63 Q277,413.8 277.47,415.12 L279.63,421.28 Q280.1,422.6 280.36,424.10 L281.55,431.10 Q281.8,432.6 281.75,438.21 L281.55,464.39 Q281.5,470 281.65,471.05 L282.35,475.95 Q282.5,477 283.07,475.95 L285.73,471.05 Q286.3,470 286.96,468.50 L290.04,461.50 Q290.7,460 291.34,461.14 L294.36,466.46 Q295,467.6 295.30,468.55 L296.70,472.95 Q297,473.9 297.56,473.99 L300.14,474.41 Q300.7,474.5 301.07,476.86 L302.82,487.84 Q303.2,490.2 303.39,491.13 L304.31,495.47 Q304.5,496.4 304.78,494.15 L306.12,483.65 Q306.4,481.4 306.58,484.22 L307.42,497.38 Q307.6,500.2 308.17,498.88 L310.83,492.72 Q311.4,491.4 311.95,489.90 L314.55,482.90 Q315.1,481.4 315.67,478.94 L318.33,467.46 Q318.9,465 319.37,462.66 L321.53,451.74 Q322,449.4 322.48,451.74 L324.72,462.66 Q325.2,465 325.38,468.39 L326.22,484.21 Q326.4,487.6 326.69,488.92 L328.01,495.08 Q328.3,496.4 328.76,497.06 L330.94,500.14 Q331.4,500.8 331.88,499.21 L334.12,491.79 Q334.6,490.2 335.00,488.52 L336.90,480.68 Q337.3,479 337.74,480.68 L339.76,488.52 Q340.2,490.2 340.37,491.87 L341.13,499.63 Q341.3,501.3 341.68,504.51 L343.43,519.49 Q343.8,522.7 343.89,526.05 L344.31,541.65 Q344.4,545 344.77,546.89 L346.52,555.71 Q346.9,557.6 347.15,557.98 L348.35,559.73 Q348.6,560.1 348.92,553.26 L350.38,521.34 Q350.7,514.5 350.99,518.14 L352.31,535.15 Q352.6,538.8 352.75,542.19 L353.45,558.01 Q353.6,561.4 354.00,560.17 L355.90,554.43 Q356.3,553.2 356.68,554.61 L358.43,561.19 Q358.8,562.6 359.09,564.12 L360.41,571.19 Q360.7,572.7 360.99,573.08 L362.31,574.83 Q362.6,575.2 362.80,574.92 L363.70,573.58 Q363.9,573.3 364.23,573.96 L365.77,577.04 Q366.1,577.7 366.42,576.19 L367.88,569.12 Q368.2,567.6 368.49,564.60 L369.81,550.60 Q370.1,547.6 370.38,546.57 L371.72,541.74 Q372,540.7 372.47,541.08 L374.63,542.83 Q375.1,543.2 375.44,542.08 L377.06,536.83 Q377.4,535.7 377.52,538.24 L378.08,550.07 Q378.2,552.6 378.50,550.71 L379.90,541.89 Q380.2,540 380.47,542.64 L381.73,554.96 Q382,557.6 382.19,561.17 L383.11,577.83 Q383.3,581.4 383.76,581.31 L385.94,580.89 Q386.4,580.8 386.97,581.92 L389.63,587.17 Q390.2,588.3 390.66,587.08 L392.84,581.42 Q393.3,580.2 393.86,580.58 L396.44,582.33 Q397,582.7 397.56,581.55 L400.14,576.15 Q400.7,575 401.44,575.12 L404.87,575.68 Q405.6,575.8 405.74,572.89 L406.37,559.31 Q406.5,556.4 406.75,555.65 L407.94,552.15 Q408.2,551.4 408.66,550.45 L410.84,546.05 Q411.3,545.1 411.76,544.15 L413.94,539.75 Q414.4,538.8 414.88,539.75 L417.12,544.15 Q417.6,545.1 418.06,546.71 L420.24,554.19 Q420.7,555.8 421.27,554.38 L423.93,547.72 Q424.5,546.3 425.01,545.17 L427.39,539.92 Q427.9,538.8 428.51,540.31 L431.38,547.38 Q432,548.9 432.18,546.45 L433.02,535.05 Q433.2,532.6 433.89,532.50 L437.11,532.00 Q437.8,531.9 437.95,528.99 L438.65,515.41 Q438.8,512.5 438.91,511.92 L439.39,509.19 Q439.5,508.6 439.71,508.88 L440.69,510.22 Q440.9,510.5 441.02,512.08 L441.58,519.42 Q441.7,521 441.97,523.87 L443.23,537.24 Q443.5,540.1 443.94,543.01 L445.96,556.59 Q446.4,559.5 446.87,557.43 L449.03,547.77 Q449.5,545.7 450.07,547.11 L452.73,553.69 Q453.3,555.1 453.96,555.96 L457.04,559.94 Q457.7,560.8 458.00,559.63 L459.40,554.17 Q459.7,553 459.79,549.25 L460.21,531.75 Q460.3,528 460.68,518.55 L462.43,474.45 Q462.8,465 463.15,456.11 L464.75,414.59 Q465.1,405.7 465.62,404.00 L468.08,396.09 Q468.6,394.4 468.92,396.09 L470.38,404.00 Q470.7,405.7 470.89,415.09 L471.81,458.91 Q472,468.3 472.84,458.91 L476.76,415.09 Q477.6,405.7 477.80,404.84 L478.70,400.86 Q478.9,400 479.08,400.86 L479.92,404.84 Q480.1,405.7 480.16,412.80 L480.44,445.90 Q480.5,453 481.19,451.08 L484.41,442.12 Q485.1,440.2 485.76,437.56 L488.84,425.24 Q489.5,422.6 489.88,420.06 L491.62,408.24 Q492,405.7 492.23,404.12 L493.27,396.77 Q493.5,395.2 493.73,393.97 L494.77,388.23 Q495,387 495.24,385.88 L496.36,380.62 Q496.6,379.5 496.84,378.28 L497.96,372.62 Q498.2,371.4 498.51,370.21 L499.99,364.69 Q500.3,363.5 500.60,362.68 L502.00,358.82 Q502.3,358 502.65,357.67 L504.25,356.13 Q504.6,355.8 504.93,356.28 L506.47,358.52 Q506.8,359 507.07,360.00 L508.33,364.69 Q508.6,365.7 508.83,366.84 L509.88,372.16 Q510.1,373.3 510.28,374.51 L511.12,380.19 Q511.3,381.4 511.54,382.63 L512.66,388.37 Q512.9,389.6 513.18,391.16 L514.51,398.44 Q514.8,400 515.01,399.93 L515.99,399.57 Q516.2,399.5 516.32,397.91 L516.88,390.49 Q517,388.9 517.06,387.69 L517.34,382.01 Q517.4,380.8 517.48,379.68 L517.82,374.43 Q517.9,373.3 517.94,372.07 L518.16,366.33 Q518.2,365.1 518.26,363.88 L518.54,358.22 Q518.6,357 518.64,355.77 L518.86,350.03 Q518.9,348.8 518.94,347.63 L519.16,342.17 Q519.2,341 519.31,339.77 L519.79,334.03 Q519.9,332.8 519.93,331.63 L520.07,326.17 Q520.1,325 520.16,323.80 L520.44,318.20 Q520.5,317 520.62,315.78 L521.18,310.12 Q521.3,308.9 521.50,307.73 L522.40,302.27 Q522.6,301.1 522.93,299.98 L524.47,294.73 Q524.8,293.6 525.26,292.50 L527.43,287.40 Q527.9,286.3 528.51,285.26 L531.38,280.44 Q532,279.4 532.43,278.27 L534.47,273.02 Q534.9,271.9 535.22,270.77 L536.68,265.52 Q537,264.4 537.43,263.23 L539.47,257.77 Q539.9,256.6 540.42,255.54 L542.88,250.56 Q543.4,249.5 544.06,248.51 L547.14,243.89 Q547.8,242.9 548.31,241.85 L550.69,236.95 Q551.2,235.9 551.55,234.73 L553.15,229.27 Q553.5,228.1 553.82,226.96 L555.28,221.64 Q555.6,220.5 555.69,220.19 L556.2,218.4" fill="none" stroke="#121314" stroke-width="4" stroke-linejoin="round" stroke-linecap="round" clip-path="url(#dn)"/>
</svg>
<div class="t" id="title" style="left:16px;top:13px;font-size:27.500px;transform:scaleX(0.868);font-weight:bold;color:#151617;-webkit-text-stroke:0.55px #151617;">WIN PROBA<span style="letter-spacing:0.8px">B</span><span style="letter-spacing:1.2px">I</span><span style="letter-spacing:0.3px">L</span><span style="letter-spacing:0.7px">I</span>TY</div>
<div class="t" id="n1" style="left:152.500px;top:151px;font-size:25px;color:#6c6e6f;transform:scaleX(0.91);">TEX</div>
<div class="t r" id="n2" style="right:135px;top:151px;font-size:25px;color:#6c6e6f;transform:scaleX(0.95);">MSST</div>
<div class="t" id="a1" style="left:570px;top:214.300px;font-size:23px;color:#48494a;transform:scale(1.04,0.965);">100</div>
<div class="t" id="a2" style="left:572px;top:395.300px;font-size:23px;color:#48494a;transform:scale(1.09,0.965);">50</div>
<div class="t" id="a3" style="left:570px;top:582.300px;font-size:23px;color:#48494a;transform:scale(1.04,0.965);">100</div>
<div class="t" id="q1" style="left:58.500px;top:600.500px;font-size:23px;color:#48494a;transform:scale(0.95,0.945);">1st</div>
<div class="t" id="q2" style="left:170.500px;top:600.500px;font-size:23px;color:#48494a;transform:scale(1.02,0.945);">2nd</div>
<div class="t" id="q3" style="left:288.500px;top:600.500px;font-size:23px;color:#48494a;transform:scale(1.07,0.945);">3rd</div>
<div class="t" id="q4" style="left:405.500px;top:600.500px;font-size:23px;color:#48494a;transform:scale(1.07,0.945);">4th</div>
<div class="t" id="q5" style="left:500.500px;top:600.500px;font-size:23px;color:#48494a;transform:scale(0.90,0.945);">OT</div>
<div style="position:absolute;left:17px;top:645px;width:590px;height:60px;border-radius:12px;background:#fff;box-shadow:0 0 6px rgba(0,0,0,0.065);"></div>
</body></html>
